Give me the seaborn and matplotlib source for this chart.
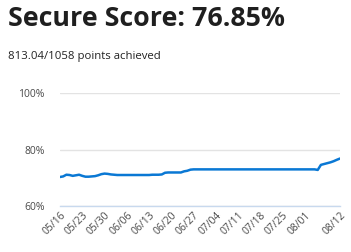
import matplotlib
matplotlib.use("Agg")
import matplotlib.pyplot as plt
import seaborn as sns
import pandas as pd

title = "Secure Score: 76.85%"
subtitle = "813.04/1058 points achieved"
start_date = "2019-05-16"
end_date = "2019-08-12"
score_pct = [
    70.3, 70.5, 71.1, 71.0, 70.7, 70.9, 71.1, 70.7, 70.4, 70.4,
    70.5, 70.6, 70.9, 71.3, 71.5, 71.4, 71.2, 71.1, 71.0, 71.0,
    71.0, 71.0, 71.0, 71.0, 71.0, 71.0, 71.0, 71.0, 71.0, 71.1,
    71.1, 71.1, 71.2, 71.8, 71.9, 71.9, 71.9, 71.9, 71.9, 72.3,
    72.5, 72.9, 73.0, 73.0, 73.0, 73.0, 73.0, 73.0, 73.0, 73.0,
    73.0, 73.0, 73.0, 73.0, 73.0, 73.0, 73.0, 73.0, 73.0, 73.0,
    73.0, 73.0, 73.0, 73.0, 73.0, 73.0, 73.0, 73.0, 73.0, 73.0,
    73.0, 73.0, 73.0, 73.0, 73.0, 73.0, 73.0, 73.0, 73.0, 73.0,
    73.0, 72.8, 74.6, 74.9, 75.2, 75.5, 75.9, 76.4, 76.85,
]
tick_labels = ["05/16", "05/23", "05/30", "06/06", "06/13", "06/20", "06/27",
               "07/04", "07/11", "07/18", "07/25", "08/01", "08/12"]
y_ticks = [60, 80, 100]

dates = pd.date_range(start_date, end_date, freq="D")
df = pd.DataFrame({"date": dates, "score": score_pct})

sns.set_theme(style="white")
plt.rcParams["font.family"] = ["Open Sans", "DejaVu Sans"]

fig = plt.figure(figsize=(3.51, 2.52), dpi=100)
ax = fig.add_axes([60/351, 1 - 206/252, (340 - 60)/351, (206 - 93.3)/252])

sns.lineplot(data=df, x="date", y="score", ax=ax, color="#0a78d4", linewidth=1.8)

ax.set_ylim(60, 100)
ax.set_xlim(dates[0], dates[-1])
ax.set_yticks(y_ticks)
ax.set_yticklabels([f"{v}%" for v in y_ticks])
tick_dates = [pd.Timestamp("2019-" + t.replace("/", "-")) for t in tick_labels]
ax.set_xticks(tick_dates)
ax.set_xticklabels(tick_labels, rotation=45, ha="right", rotation_mode="anchor")
ax.grid(axis="y", color="#e3e3e3", linewidth=1)
ax.grid(axis="x", visible=False)
for s in ["top", "right", "left"]:
    ax.spines[s].set_visible(False)
ax.spines["bottom"].set_color("#c8d9ee")
ax.spines["bottom"].set_linewidth(1)
ax.tick_params(axis="both", length=0, labelsize=7.5, colors="#4a4a4a")
ax.tick_params(axis="y", pad=11)
ax.tick_params(axis="x", pad=3)
ax.set_xlabel("")
ax.set_ylabel("")

fig.text(8/351, 1 - 19/252, title, fontsize=19.3, fontweight="bold", color="#1f1f1f",
         va="center", ha="left")
fig.text(8/351, 1 - 56/252, subtitle, fontsize=8.2, color="#222222", va="center", ha="left")

fig.savefig("out.png", dpi=100)
